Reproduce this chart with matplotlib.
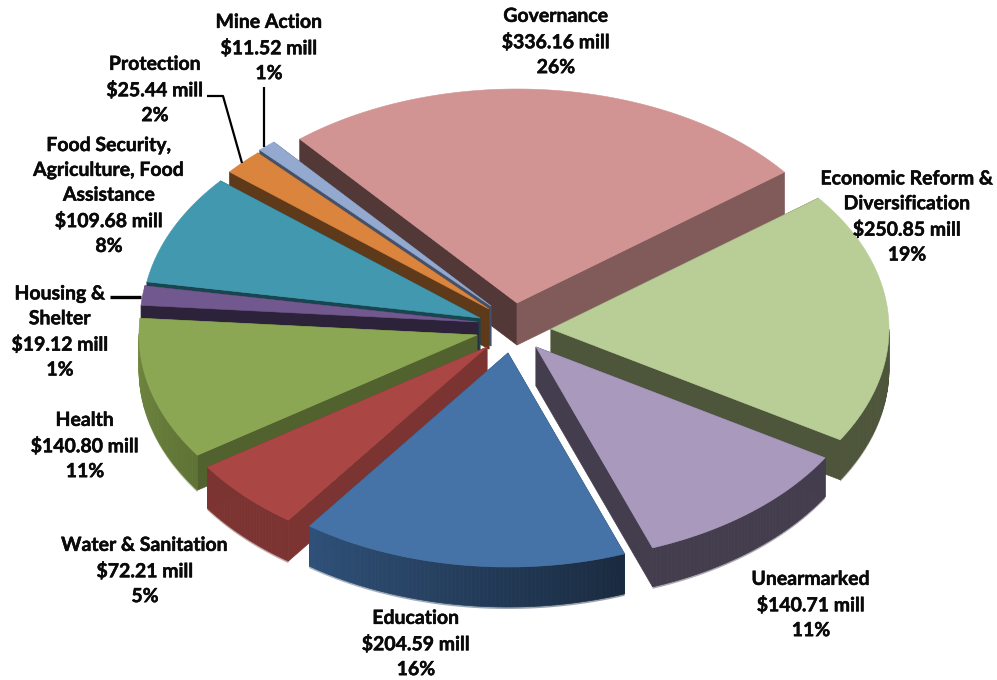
import numpy as np
import matplotlib
matplotlib.use("Agg")
import matplotlib.pyplot as plt
import matplotlib.patheffects as pe
from matplotlib.patches import Polygon
from matplotlib.colors import to_rgb

# --- data (clockwise from the Governance slice) ---
categories = ["Governance", "Economic Reform &\nDiversification", "Unearmarked", "Education",
              "Water & Sanitation", "Health", "Housing &\nShelter",
              "Food Security,\nAgriculture, Food\nAssistance", "Protection", "Mine Action"]
amounts = [336.16, 250.85, 140.71, 204.59, 72.21, 140.80, 19.12, 109.68, 25.44, 11.52]
percents = [26, 19, 11, 16, 5, 11, 1, 8, 2, 1]

# --- style ---
top_colors = ["#D29493", "#B9CD96", "#A99ABD", "#4573A7", "#AA4644",
              "#8CA753", "#71588F", "#4198AF", "#DB843D", "#94A9D0"]
wall_start = ["#533838", "#4D553A", "#443D4E", "#2B4766", "#7C3432",
              "#52622F", "#2C2239", "#184650", "#5E3A1A", "#44516B"]
wall_end = ["#815A5A", "#4D553A", "#443D4E", "#2B4766", "#7C3432",
            "#52622F", "#2C2239", "#184650", "#5E3A1A", "#44516B"]
outer_a = ["#815A5A", "#4D553A", "#443D4E", "#1A2B40", "#7C3432",
           "#5E7335", "#2C2239", "#184650", "#5E3A1A", "#44516B"]
outer_b = ["#533838", "#4D553A", "#443D4E", "#2F5078", "#7C3432",
           "#72893F", "#2C2239", "#184650", "#5E3A1A", "#44516B"]
explode_x = [30, 64, 49, 21, 0, -10, -9, -7, 2, 4]
explode_y = [-32, -6, 12, 18, 12, 0, -13, -17, -26, -29]
depths = [42, 40, 39, 40, 41, 35, 40, 40, 40, 40]
draw_order = [0, 1, 9, 8, 7, 6, 2, 5, 4, 3]
label_x = [556, 907, 811, 416, 145, 85, 60, 109, 155, 269]
label_y = [42, 217, 605, 644, 571, 446, 332, 196, 90, 48]

CX, CY, RX, RY = 487, 335, 338, 214
START = 130.0

fig = plt.figure(figsize=(9.97, 6.8), dpi=100, facecolor="white")
ax = fig.add_axes([0, 0, 1, 1])
ax.set_xlim(0, 997)
ax.set_ylim(680, 0)
ax.axis("off")

spans = np.array(amounts) / np.sum(amounts) * 360.0
ends = START - np.cumsum(spans)
starts = ends + spans


def quad(p, q, d, color, z, alpha=1.0, lw=0.5):
    pts = [p, q, (q[0], q[1] + d), (p[0], p[1] + d)]
    ax.add_patch(Polygon(pts, closed=True, facecolor=color,
                         edgecolor=color if lw else "none",
                         lw=lw, alpha=alpha, zorder=z))


for z, i in enumerate(draw_order):
    apex = (CX + explode_x[i], CY + explode_y[i])
    deg = np.linspace(starts[i], ends[i], max(int(spans[i] * 1.5), 3))
    th = np.radians(deg)
    xs = apex[0] + RX * np.cos(th)
    ys = apex[1] - RY * np.sin(th)
    arc = list(zip(xs, ys))
    d = depths[i]
    ca, cb = np.array(to_rgb(outer_a[i])), np.array(to_rgb(outer_b[i]))
    # radial cut walls first
    quad(apex, arc[0], d, wall_start[i], z * 3)
    quad(apex, arc[-1], d, wall_end[i], z * 3)
    # outer rim: only the part that faces the viewer
    for j in range(len(arc) - 1):
        if np.sin(th[j]) + np.sin(th[j + 1]) > 0:
            continue
        f = j / max(len(arc) - 2, 1)
        col = tuple(ca + (cb - ca) * f)
        quad(arc[j], arc[j + 1], d + 2, col, z * 3 + 0.1, alpha=0.45, lw=0)
        quad(arc[j], arc[j + 1], d, col, z * 3 + 0.2)
    ax.add_patch(Polygon([apex] + arc, closed=True, facecolor=top_colors[i],
                         edgecolor=top_colors[i], lw=0.4, zorder=z * 3 + 1))

# --- leader lines ---
leaders = [([264, 264], [87, 147], 1.6),
           ([207, 223, 242], [96, 96, 163], 1.6),
           ([110, 141], [297, 297], 2.4)]
for lx, ly, w in leaders:
    ax.plot(lx, ly, color="black", lw=w, zorder=100, solid_capstyle="butt")

# --- labels ---
for i, name in enumerate(categories):
    t = ax.text(label_x[i], label_y[i], f"{name}\n${amounts[i]:.2f} mill\n{percents[i]}%",
                ha="center", va="center", multialignment="center", family="Lato",
                weight="bold", fontsize=14.0, linespacing=1.56, color="#0a0a0a", zorder=101)
    t.set_path_effects([pe.withStroke(linewidth=0.35, foreground="#0a0a0a")])

fig.savefig("out.png", dpi=100, facecolor="white")
